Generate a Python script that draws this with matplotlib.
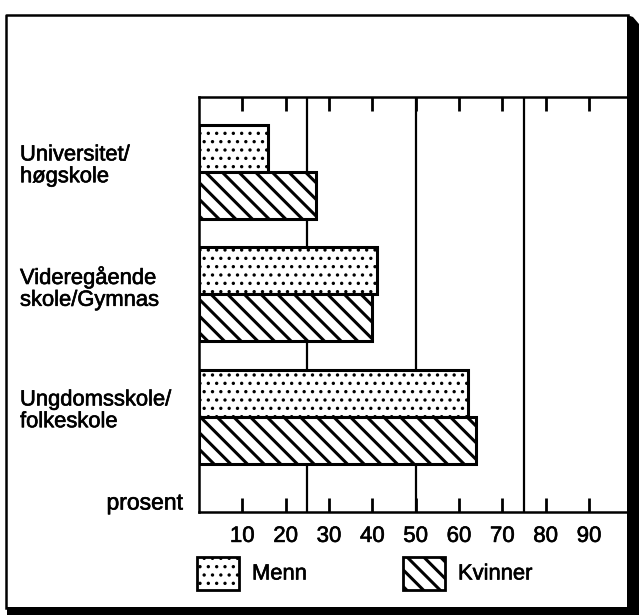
import matplotlib
matplotlib.use("Agg")
import matplotlib.pyplot as plt
import matplotlib.transforms as mtransforms
import matplotlib.patheffects as pe
from matplotlib.patches import Rectangle, Polygon
from matplotlib.lines import Line2D
import numpy as np

plt.rcParams['font.family'] = ['Liberation Sans', 'DejaVu Sans']

categories = ["Universitet/\nhøgskole", "Videregående\nskole/Gymnas", "Ungdomsskole/\nfolkeskole"]
menn = [16, 41, 62]
kvinner = [27, 40, 64]
series_labels = ["Menn", "Kvinner"]
xticks = [10, 20, 30, 40, 50, 60, 70, 80, 90]
gridlines = [25, 50, 75]
unit_label = "prosent"

W, H = 639, 615
fig = plt.figure(figsize=(W / 100, H / 100), dpi=100)
bold = [pe.withStroke(linewidth=0.45, foreground='black')]

def fx(px):
    return px / W

def fy(py):
    return 1 - py / H

# axes placement
ax_l, ax_r, ax_t, ax_b = 199, 628, 97, 512
ax = fig.add_axes([fx(ax_l), fy(ax_b), fx(ax_r - ax_l), (ax_b - ax_t) / H])

pos = np.arange(len(categories))
h = 0.384
DOT, DIAG = '..', '\\\\'
DOT_LW, DIAG_LW = 1.2, 2.2
with plt.rc_context({'hatch.linewidth': DOT_LW}):
    ax.barh(pos - h / 2, menn, height=h, facecolor='white', edgecolor='black',
            linewidth=2.2, hatch=DOT, zorder=3)
with plt.rc_context({'hatch.linewidth': DIAG_LW}):
    ax.barh(pos + h / 2, kvinner, height=h, facecolor='white', edgecolor='black',
            linewidth=2.2, hatch=DIAG, zorder=3)

ax.set_xlim(0, 99)
ax.set_ylim(2.776, -0.612)

for g in gridlines:
    ax.axvline(g, color='black', linewidth=1.6, zorder=1)

ax.set_xticks(xticks)
ax.set_xticklabels([str(t) for t in xticks], fontsize=16)
for lbl in ax.get_xticklabels():
    lbl.set_path_effects(bold)
ax.tick_params(axis='x', which='both', direction='in', length=10, width=2.0,
               top=True, bottom=True, labelbottom=True, pad=10)
ax.set_yticks([])
for s in ['left', 'top', 'bottom']:
    ax.spines[s].set_linewidth(1.8)
ax.spines['right'].set_visible(False)

# category labels
trans = mtransforms.blended_transform_factory(fig.transFigure, ax.transData)
for i, c in enumerate(categories):
    ax.text(fx(20), i - 0.05, c, transform=trans, path_effects=bold,
            ha='left', va='center', fontsize=15.8, linespacing=1.05)

fig.text(fx(183), fy(503), unit_label, ha='right', va='center', fontsize=16.5,
         path_effects=bold)

# legend (manual)
leg_hatches = [DOT, DIAG]
leg_lw = [DOT_LW, DIAG_LW]
leg_x = [197, 403]
for lab, hx, lx, lw in zip(series_labels, leg_hatches, leg_x, leg_lw):
    with plt.rc_context({'hatch.linewidth': lw}):
        r = Rectangle((fx(lx), fy(590)), fx(42), (590 - 557) / H, transform=fig.transFigure,
                      facecolor='white', edgecolor='black', linewidth=2.0, hatch=hx)
        fig.patches.append(r)
    fig.text(fx(lx + 55), fy(574), lab, ha='left', va='center', fontsize=15.8,
             path_effects=bold)

# outer frame
fig.lines.append(Line2D([fx(6), fx(6), fx(628)], [fy(608), fy(15), fy(15)],
                        transform=fig.transFigure, color='black', linewidth=1.8))
fig.patches.append(Polygon([(fx(627), fy(15)), (fx(633), fy(17)), (fx(639), fy(24)),
                            (fx(639), fy(615)), (fx(7), fy(615)), (fx(7), fy(607)),
                            (fx(627), fy(607))], closed=True, transform=fig.transFigure,
                           facecolor='black', edgecolor='none'))

fig.savefig("out.png", dpi=100)
